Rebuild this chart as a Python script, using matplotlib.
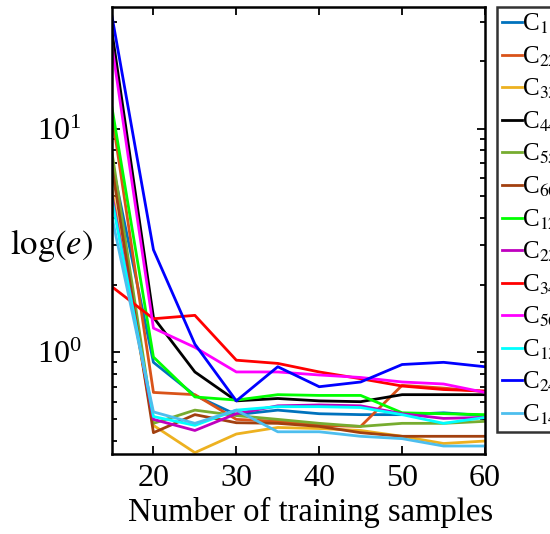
import matplotlib
matplotlib.use("Agg")
import matplotlib.pyplot as plt
import numpy as np

plt.rcParams['font.family'] = ['Liberation Serif', 'DejaVu Serif']
plt.rcParams['mathtext.fontset'] = 'stix'

samples = [15, 20, 25, 30, 35, 40, 45, 50, 55, 60]

labels = ['C$_{11}$', 'C$_{22}$', 'C$_{33}$', 'C$_{44}$', 'C$_{55}$', 'C$_{66}$',
          'C$_{12}$', 'C$_{23}$', 'C$_{34}$', 'C$_{56}$', 'C$_{13}$', 'C$_{24}$', 'C$_{14}$']

C11 = [7.05, 0.90, 0.64, 0.525, 0.55, 0.53, 0.525, 0.525, 0.535, 0.52]
C22 = [11.5, 0.66, 0.645, 0.50, 0.49, 0.47, 0.465, 0.71, 0.69, 0.665]
C33 = [5.3, 0.47, 0.355, 0.43, 0.46, 0.455, 0.446, 0.42, 0.39, 0.40]
C44 = [27.0, 1.43, 0.815, 0.605, 0.62, 0.605, 0.60, 0.645, 0.645, 0.645]
C55 = [7.8, 0.48, 0.55, 0.52, 0.50, 0.48, 0.465, 0.48, 0.48, 0.49]
C66 = [6.7, 0.436, 0.525, 0.483, 0.48, 0.465, 0.436, 0.42, 0.42, 0.42]
C12 = [12.4, 0.95, 0.63, 0.61, 0.645, 0.64, 0.64, 0.535, 0.53, 0.525]
C23 = [5.0, 0.50, 0.446, 0.53, 0.575, 0.58, 0.575, 0.53, 0.505, 0.51]
C34 = [1.96, 1.41, 1.46, 0.92, 0.89, 0.815, 0.76, 0.705, 0.68, 0.67]
C56 = [23.4, 1.28, 1.05, 0.815, 0.815, 0.79, 0.77, 0.735, 0.72, 0.66]
C13 = [4.8, 0.515, 0.47, 0.55, 0.57, 0.57, 0.565, 0.525, 0.48, 0.51]
C24 = [31.8, 2.87, 1.085, 0.605, 0.86, 0.70, 0.735, 0.88, 0.90, 0.86]
C14 = [4.0, 0.54, 0.48, 0.55, 0.44, 0.44, 0.42, 0.41, 0.38, 0.38]

series = [C11, C22, C33, C44, C55, C66, C12, C23, C34, C56, C13, C24, C14]
colors = ['#0072BD', '#D95319', '#EDB120', '#000000', '#77AC30', '#A2400F',
          '#00FF00', '#BF00BF', '#FF0000', '#FF00FF', '#00FFFF', '#0000FF', '#4DBEEE']

fig = plt.figure(figsize=(5.5, 5.34), dpi=100)
ax = fig.add_axes([112/550, 1-454/534, (485-112)/550, (454-7)/534])

for ys, c, lab in zip(series, colors, labels):
    ax.plot(samples, ys, color=c, lw=2.0, label=lab)

ax.set_yscale('log')
ax.set_xlim(15, 60)
ax.set_ylim(0.35, 35)
ax.set_xticks([20, 30, 40, 50, 60])
ax.set_yticks([1, 10])
ax.set_yticklabels(['$\\mathregular{10^{0}}$', '$\\mathregular{10^{1}}$'])
ax.tick_params(axis='both', which='both', direction='in', top=True, right=True,
               labelsize=23, width=1.3)
ax.tick_params(which='major', length=6)
ax.tick_params(which='minor', length=3.5)
ax.tick_params(axis='x', pad=7)
ax.tick_params(axis='y', pad=22)
for s in ax.spines.values():
    s.set_linewidth(1.8)

ax.set_xlabel('Number of training samples', fontsize=23.5, labelpad=6)
ax.xaxis.set_label_coords(0.532, -0.095)
fig.text(52/550, 1-245/534, '$\\log(e)$', fontsize=25, ha='center', va='center')

leg = ax.legend(loc='upper left', bbox_to_anchor=(497/550, 1-7/534),
                bbox_transform=fig.transFigure, fontsize=18, frameon=True,
                fancybox=False, edgecolor='black', handlelength=0.8,
                handletextpad=0.0, labelspacing=0.33, borderpad=0.2,
                borderaxespad=0)
leg.get_frame().set_linewidth(1.8)
for line in leg.get_lines():
    line.set_linewidth(2.0)

fig.savefig('out.png', dpi=100)
